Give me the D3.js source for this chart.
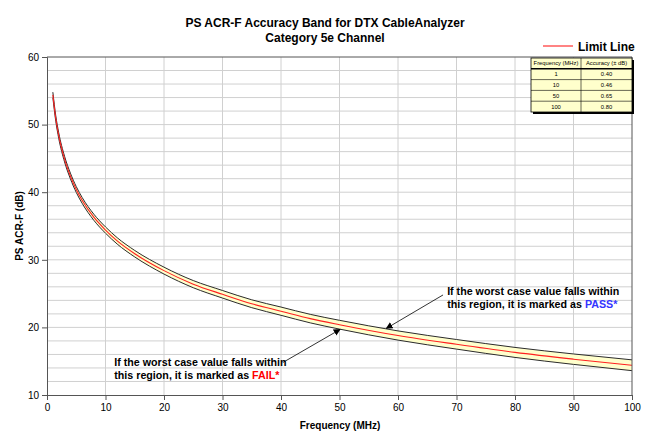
<!DOCTYPE html>
<html>
<head>
<meta charset="utf-8">
<script src="https://cdn.jsdelivr.net/npm/d3@7"></script>
<style>
  body { margin: 0; background: #fff; }
  svg text { font-family: "Liberation Sans", Arial, sans-serif; }
</style>
</head>
<body>
<div id="vis"></div>
<script>
// Values
var freq = [1, 1.5, 2, 3, 4, 5, 6, 8, 10, 12, 15, 20, 25, 30, 35, 40, 45, 50, 60, 70, 80, 90, 100];
var limit = [54.4, 50.9, 48.4, 44.9, 42.4, 40.4, 38.8, 36.3, 34.4, 32.8, 30.9, 28.4, 26.4, 24.9, 23.5, 22.4, 21.3, 20.4, 18.8, 17.5, 16.3, 15.3, 14.4];
var accuracy = [0.40, 0.40, 0.41, 0.42, 0.42, 0.43, 0.43, 0.45, 0.46, 0.47, 0.48, 0.51, 0.53, 0.56, 0.58, 0.61, 0.63, 0.65, 0.68, 0.71, 0.74, 0.77, 0.80];

// accuracy table in the corner
var tableFreq = ["1", "10", "50", "100"];
var tableAcc = ["0.40", "0.46", "0.65", "0.80"];

var xTicks = [0, 10, 20, 30, 40, 50, 60, 70, 80, 90, 100];
var yTicks = [10, 20, 30, 40, 50, 60];

var W = 650, H = 445;
var margin = { top: 57, right: 18, bottom: 50, left: 47 };
var width = W - margin.left - margin.right;
var height = H - margin.top - margin.bottom;

var root = d3.select("#vis").append("svg").attr("width", W).attr("height", H);

var defs = root.append("defs");
defs.append("marker")
  .attr("id", "arrow")
  .attr("viewBox", "0 0 10 10")
  .attr("refX", 9).attr("refY", 5)
  .attr("markerWidth", 7).attr("markerHeight", 7)
  .attr("markerUnits", "userSpaceOnUse")
  .attr("orient", "auto")
  .append("path").attr("d", "M0,0 L10,5 L0,10 z").attr("fill", "#000");

var svg = root.append("g").attr("transform", `translate(${margin.left}, ${margin.top})`);

var x = d3.scaleLinear().domain([0, 100]).range([0, width]);
var y = d3.scaleLinear().domain([10, 60]).range([height, 0]);

// gridlines: every 10 MHz, every 2 dB
svg.append("g")
  .selectAll("line")
  .data(d3.range(12, 60, 2))
  .join("line")
  .attr("x1", 0).attr("x2", width)
  .attr("y1", d => y(d)).attr("y2", d => y(d))
  .attr("stroke", "#d0d0d0").attr("stroke-width", 1);
svg.append("g")
  .selectAll("line")
  .data(xTicks.slice(1, -1))
  .join("line")
  .attr("x1", d => x(d)).attr("x2", d => x(d))
  .attr("y1", 0).attr("y2", height)
  .attr("stroke", "#d0d0d0").attr("stroke-width", 1);

var pts = freq.map((f, i) => ({ f: f, v: limit[i], a: accuracy[i] }));

// accuracy band
var area = d3.area()
  .x(d => x(d.f))
  .y0(d => y(d.v - d.a))
  .y1(d => y(d.v + d.a))
  .curve(d3.curveMonotoneX);
svg.append("path").datum(pts).attr("d", area).attr("fill", "#ffffcc");

var upper = d3.line().x(d => x(d.f)).y(d => y(d.v + d.a)).curve(d3.curveMonotoneX);
var lower = d3.line().x(d => x(d.f)).y(d => y(d.v - d.a)).curve(d3.curveMonotoneX);
var mid = d3.line().x(d => x(d.f)).y(d => y(d.v)).curve(d3.curveMonotoneX);

svg.append("path").datum(pts).attr("d", upper).attr("fill", "none").attr("stroke", "#2b2b2b").attr("stroke-width", 1);
svg.append("path").datum(pts).attr("d", lower).attr("fill", "none").attr("stroke", "#2b2b2b").attr("stroke-width", 1);
svg.append("path").datum(pts).attr("d", mid).attr("fill", "none").attr("stroke", "#ff2020").attr("stroke-width", 1.1);

// plot border (top / right)
svg.append("path")
  .attr("d", `M0,0 H${width} V${height}`)
  .attr("fill", "none").attr("stroke", "#555").attr("stroke-width", 1);

// axes
var xAxis = svg.append("g")
  .attr("transform", `translate(0, ${height})`)
  .call(d3.axisBottom(x).tickValues(xTicks).tickSize(5).tickPadding(4));
var yAxis = svg.append("g")
  .call(d3.axisLeft(y).tickValues(yTicks).tickSize(5).tickPadding(3));
[xAxis, yAxis].forEach(a => {
  a.select(".domain").attr("stroke", "#555");
  a.selectAll(".tick line").attr("stroke", "#555");
  a.selectAll("text")
    .style("font-family", "'Liberation Sans', Arial, sans-serif")
    .style("font-size", "10px").attr("fill", "#000");
});

// titles
root.append("text").attr("x", 325).attr("y", 27).attr("text-anchor", "middle")
  .style("font-size", "12px").style("font-weight", "bold")
  .text("PS ACR-F Accuracy Band for DTX CableAnalyzer");
root.append("text").attr("x", 325).attr("y", 42).attr("text-anchor", "middle")
  .style("font-size", "12px").style("font-weight", "bold")
  .text("Category 5e Channel");

root.append("text").attr("x", 340).attr("y", 429).attr("text-anchor", "middle")
  .style("font-size", "10px").style("font-weight", "bold")
  .text("Frequency (MHz)");
root.append("text").attr("transform", "translate(23, 226) rotate(-90)").attr("text-anchor", "middle")
  .style("font-size", "10px").style("font-weight", "bold")
  .text("PS ACR-F (dB)");

// legend
root.append("line").attr("x1", 543).attr("x2", 573).attr("y1", 46).attr("y2", 46)
  .attr("stroke", "#ff3030").attr("stroke-width", 1.2);
root.append("text").attr("x", 578).attr("y", 51)
  .style("font-size", "12px").style("font-weight", "bold")
  .text("Limit Line");

// accuracy table
var tx = 531, ty = 58, colW = [50, 51], rowH = 10.8;
var tbl = root.append("g");
var rows = [["Frequency (MHz)", "Accuracy (\u00b1 dB)"]].concat(tableFreq.map((f, i) => [f, tableAcc[i]]));
var tw = colW[0] + colW[1], th = rowH * rows.length;
tbl.append("rect").attr("x", tx + 2).attr("y", ty + 2).attr("width", tw).attr("height", th).attr("fill", "#000");
tbl.append("rect").attr("x", tx).attr("y", ty).attr("width", tw).attr("height", th)
  .attr("fill", "#ffffcc").attr("stroke", "#000").attr("stroke-width", 0.8);
rows.forEach((r, i) => {
  if (i > 0) {
    tbl.append("line").attr("x1", tx).attr("x2", tx + tw)
      .attr("y1", ty + i * rowH).attr("y2", ty + i * rowH)
      .attr("stroke", "#000").attr("stroke-width", i === 1 ? 1.4 : 0.6);
  }
  r.forEach((c, j) => {
    tbl.append("text")
      .attr("x", tx + (j === 0 ? colW[0] / 2 : colW[0] + colW[1] / 2))
      .attr("y", ty + i * rowH + rowH / 2 + 2)
      .attr("text-anchor", "middle")
      .style("font-size", "5.8px")
      .text(c);
  });
});
tbl.append("line").attr("x1", tx + colW[0]).attr("x2", tx + colW[0])
  .attr("y1", ty).attr("y2", ty + th).attr("stroke", "#000").attr("stroke-width", 0.6);

// annotations
var ann = svg.append("g").style("font-size", "10.7px").style("font-weight", "bold");
var pass = ann.append("text").attr("x", x(68.4)).attr("y", y(24.8));
pass.append("tspan").text("If the worst case value falls within");
var p2 = ann.append("text").attr("x", x(68.4)).attr("y", y(22.8));
p2.append("tspan").text("this region, it is marked as ");
p2.append("tspan").attr("fill", "#3333ff").text("PASS*");

var fail = ann.append("text").attr("x", x(11.5)).attr("y", y(14.3));
fail.append("tspan").text("If the worst case value falls within");
var f2 = ann.append("text").attr("x", x(11.5)).attr("y", y(12.4));
f2.append("tspan").text("this region, it is marked as ");
f2.append("tspan").attr("fill", "#ff0000").text("FAIL*");

svg.append("line")
  .attr("x1", x(67.7)).attr("y1", y(24.8))
  .attr("x2", x(58)).attr("y2", y(19.85))
  .attr("stroke", "#000").attr("stroke-width", 0.8).attr("marker-end", "url(#arrow)");
svg.append("line")
  .attr("x1", x(40.3)).attr("y1", y(14.8))
  .attr("x2", x(50.1)).attr("y2", y(19.7))
  .attr("stroke", "#000").attr("stroke-width", 0.8).attr("marker-end", "url(#arrow)");
</script>
</body>
</html>
